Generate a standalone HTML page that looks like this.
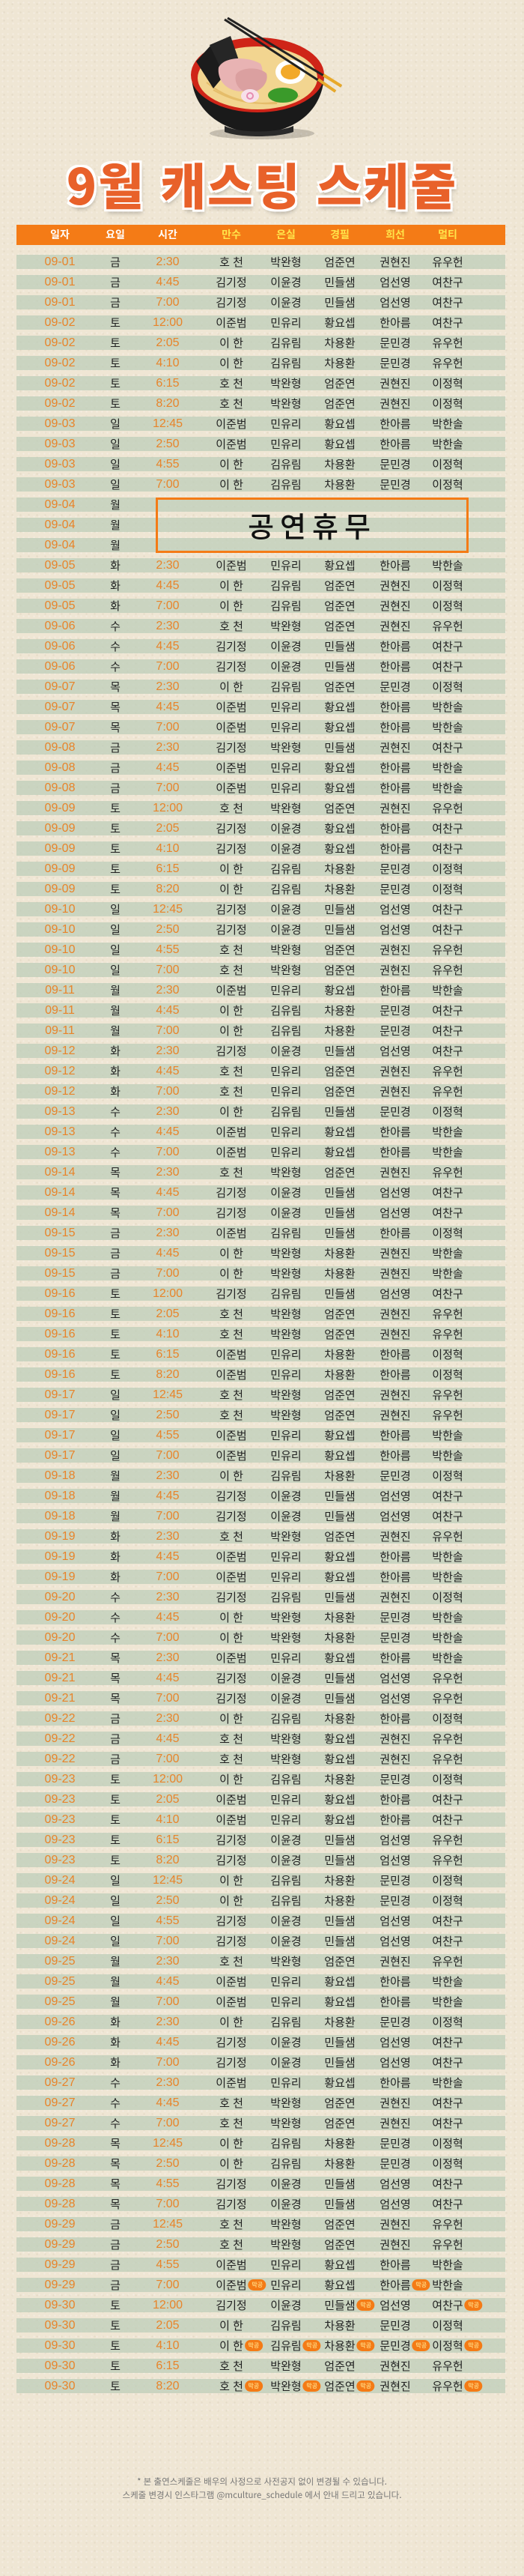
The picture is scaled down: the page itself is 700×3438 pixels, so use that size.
<!DOCTYPE html>
<html lang="ko">
<head>
<meta charset="utf-8">
<style>
html,body{margin:0;padding:0;}
body{width:700px;height:3438px;position:relative;overflow:hidden;
 background:#efe6d4;
 background-image:radial-gradient(rgba(255,255,255,0.25) 1px,transparent 1.5px),radial-gradient(rgba(150,130,100,0.10) 1px,transparent 1.5px);
 background-size:7px 7px,11px 11px;
 font-family:"Liberation Sans","Noto Sans CJK KR",sans-serif;}
#title{position:absolute;left:0;width:700px;top:200px;text-align:center;font-size:66px;line-height:90px;font-weight:900;
 color:#e8612a;letter-spacing:2px;
 font-family:"Noto Sans CJK KR","NanumGothic",sans-serif;
 -webkit-text-stroke:3px #fff;paint-order:stroke fill;
 text-shadow:0 0 0 #fff,3px 3px 0 #fff,-3px -3px 0 #fff,3px -3px 0 #fff,-3px 3px 0 #fff,2px 5px 6px rgba(0,0,0,0.25);}
#header{position:absolute;left:22px;width:653px;top:300px;height:27px;background:#f47b16;}
.h{position:absolute;top:0;height:27px;line-height:27px;transform:translateX(-50%);font-size:14px;font-weight:bold;color:#fff;white-space:nowrap;
 font-family:"Noto Sans CJK KR",sans-serif;}
.h.role{color:#ffe44a;}
.band{position:absolute;left:22px;width:653px;height:19px;background:rgba(190,205,185,0.75);}
.c{position:absolute;height:27px;line-height:19px;transform:translateX(-50%);white-space:nowrap;font-size:15px;color:#222;
 font-family:"Noto Sans CJK KR",sans-serif;}
.c.o{color:#e8842a;font-family:"Liberation Sans Narrow","Liberation Sans",sans-serif;font-size:16px;}
.badge{position:absolute;left:100%;top:2px;margin-left:2px;width:24px;height:15px;border-radius:8px;background:#f47b16;color:#ffd27a;font-size:8px;line-height:15px;text-align:center;font-weight:bold;}
#rest{position:absolute;left:208px;top:664px;width:412px;height:68px;border:3px solid #f47b16;box-sizing:content-box;}
#rest span{position:absolute;left:0;right:0;top:0;bottom:0;text-align:center;line-height:68px;font-size:38px;letter-spacing:8px;color:#111;font-weight:500;
 font-family:"Noto Sans CJK KR",sans-serif;}
#foot{position:absolute;left:0;width:700px;top:3303px;text-align:center;font-size:11.5px;line-height:18px;color:#777;
 font-family:"Noto Sans CJK KR",sans-serif;}
</style>
</head>
<body>
<svg style="position:absolute;left:0;top:0" width="700" height="200" viewBox="0 0 700 200">
 <ellipse cx="350" cy="178" rx="70" ry="8" fill="rgba(0,0,0,0.18)"/>
 <path d="M256 102 C258 150 300 176 345 178 C392 176 430 150 433 102 Z" fill="#1a1a1a"/>
 <path d="M300 168 C320 178 370 178 392 168 L392 176 C370 184 320 184 300 176Z" fill="#2a2a2a"/>
 <ellipse cx="344" cy="100" rx="89" ry="50" fill="#cf2418"/>
 <ellipse cx="344" cy="104" rx="80" ry="42" fill="#f2d590"/>
 <path d="M276 110 C300 130 330 140 370 138 M285 120 C320 140 360 144 400 128" stroke="#e5bd6a" stroke-width="2" fill="none"/>
 <polygon points="262,82 282,60 300,100 285,118" fill="#1c1c1c"/>
 <polygon points="280,60 308,48 325,98 300,102" fill="#262626"/>
 <path d="M292 90 C300 75 330 75 348 85 C356 100 345 120 320 122 C300 120 290 105 292 90Z" fill="#e8b3b3"/>
 <path d="M315 100 C320 90 345 88 356 98 C360 112 345 125 330 124 C318 120 313 110 315 100Z" fill="#dba0a0"/>
 <ellipse cx="388" cy="96" rx="20" ry="16" fill="#fff"/>
 <ellipse cx="388" cy="96" rx="13" ry="10" fill="#f2a92a"/>
 <ellipse cx="334" cy="128" rx="12" ry="9" fill="#f7e0ea"/>
 <circle cx="334" cy="128" r="4" fill="none" stroke="#e68bb0" stroke-width="2"/>
 <ellipse cx="378" cy="127" rx="20" ry="10" fill="#3a9a2a"/>
 <line x1="300" y1="26" x2="448" y2="122" stroke="#222" stroke-width="3"/>
 <line x1="304" y1="24" x2="456" y2="115" stroke="#222" stroke-width="3"/>
 <line x1="425" y1="106" x2="448" y2="122" stroke="#e8a92a" stroke-width="4"/>
 <line x1="432" y1="100" x2="456" y2="115" stroke="#e8a92a" stroke-width="4"/>
</svg>

<div id="title">9월 캐스팅 스케줄</div>

<div id="header">
 <div class="h" style="left:58px">일자</div>
 <div class="h" style="left:132px">요일</div>
 <div class="h" style="left:202px">시간</div>
 <div class="h role" style="left:287px">만수</div>
 <div class="h role" style="left:360px">은실</div>
 <div class="h role" style="left:432px">경필</div>
 <div class="h role" style="left:506px">희선</div>
 <div class="h role" style="left:576px">멀티</div>
</div>

<div id="rows"></div>

<div id="rest"><span>공연휴무</span></div>

<div id="foot">* 본 출연스케줄은 배우의 사정으로 사전공지 없이 변경될 수 있습니다.<br>스케줄 변경시 인스타그램 @mculture_schedule 에서 안내 드리고 있습니다.</div>

<script>
var dates = ["09-01","09-01","09-01","09-02","09-02","09-02","09-02","09-02","09-03","09-03","09-03","09-03","09-04","09-04","09-04",
"09-05","09-05","09-05","09-06","09-06","09-06","09-07","09-07","09-07","09-08","09-08","09-08",
"09-09","09-09","09-09","09-09","09-09","09-10","09-10","09-10","09-10","09-11","09-11","09-11","09-12","09-12","09-12",
"09-13","09-13","09-13","09-14","09-14","09-14","09-15","09-15","09-15","09-16","09-16","09-16","09-16","09-16",
"09-17","09-17","09-17","09-17","09-18","09-18","09-18","09-19","09-19","09-19","09-20","09-20","09-20",
"09-21","09-21","09-21","09-22","09-22","09-22","09-23","09-23","09-23","09-23","09-23","09-24","09-24","09-24","09-24",
"09-25","09-25","09-25","09-26","09-26","09-26","09-27","09-27","09-27","09-28","09-28","09-28","09-28",
"09-29","09-29","09-29","09-29","09-30","09-30","09-30","09-30","09-30"];
var days = ["금","금","금","토","토","토","토","토","일","일","일","일","월","월","월",
"화","화","화","수","수","수","목","목","목","금","금","금",
"토","토","토","토","토","일","일","일","일","월","월","월","화","화","화",
"수","수","수","목","목","목","금","금","금","토","토","토","토","토",
"일","일","일","일","월","월","월","화","화","화","수","수","수",
"목","목","목","금","금","금","토","토","토","토","토","일","일","일","일",
"월","월","월","화","화","화","수","수","수","목","목","목","목",
"금","금","금","금","토","토","토","토","토"];
var times = ["2:30","4:45","7:00","12:00","2:05","4:10","6:15","8:20","12:45","2:50","4:55","7:00","","","",
"2:30","4:45","7:00","2:30","4:45","7:00","2:30","4:45","7:00","2:30","4:45","7:00",
"12:00","2:05","4:10","6:15","8:20","12:45","2:50","4:55","7:00","2:30","4:45","7:00","2:30","4:45","7:00",
"2:30","4:45","7:00","2:30","4:45","7:00","2:30","4:45","7:00","12:00","2:05","4:10","6:15","8:20",
"12:45","2:50","4:55","7:00","2:30","4:45","7:00","2:30","4:45","7:00","2:30","4:45","7:00",
"2:30","4:45","7:00","2:30","4:45","7:00","12:00","2:05","4:10","6:15","8:20","12:45","2:50","4:55","7:00",
"2:30","4:45","7:00","2:30","4:45","7:00","2:30","4:45","7:00","12:45","2:50","4:55","7:00",
"12:45","2:50","4:55","7:00","12:00","2:05","4:10","6:15","8:20"];
var castRows = [
"호 천|박완형|엄준연|권현진|유우헌","김기정|이윤경|민들샘|엄선영|여찬구","김기정|이윤경|민들샘|엄선영|여찬구",
"이준범|민유리|황요셉|한아름|여찬구","이 한|김유림|차용환|문민경|유우헌","이 한|김유림|차용환|문민경|유우헌","호 천|박완형|엄준연|권현진|이정혁","호 천|박완형|엄준연|권현진|이정혁",
"이준범|민유리|황요셉|한아름|박한솔","이준범|민유리|황요셉|한아름|박한솔","이 한|김유림|차용환|문민경|이정혁","이 한|김유림|차용환|문민경|이정혁",
"","","",
"이준범|민유리|황요셉|한아름|박한솔","이 한|김유림|엄준연|권현진|이정혁","이 한|김유림|엄준연|권현진|이정혁",
"호 천|박완형|엄준연|권현진|유우헌","김기정|이윤경|민들샘|한아름|여찬구","김기정|이윤경|민들샘|한아름|여찬구",
"이 한|김유림|엄준연|문민경|이정혁","이준범|민유리|황요셉|한아름|박한솔","이준범|민유리|황요셉|한아름|박한솔",
"김기정|박완형|민들샘|권현진|여찬구","이준범|민유리|황요셉|한아름|박한솔","이준범|민유리|황요셉|한아름|박한솔",
"호 천|박완형|엄준연|권현진|유우헌","김기정|이윤경|황요셉|한아름|여찬구","김기정|이윤경|황요셉|한아름|여찬구","이 한|김유림|차용환|문민경|이정혁","이 한|김유림|차용환|문민경|이정혁",
"김기정|이윤경|민들샘|엄선영|여찬구","김기정|이윤경|민들샘|엄선영|여찬구","호 천|박완형|엄준연|권현진|유우헌","호 천|박완형|엄준연|권현진|유우헌",
"이준범|민유리|황요셉|한아름|박한솔","이 한|김유림|차용환|문민경|여찬구","이 한|김유림|차용환|문민경|여찬구",
"김기정|이윤경|민들샘|엄선영|여찬구","호 천|민유리|엄준연|권현진|유우헌","호 천|민유리|엄준연|권현진|유우헌",
"이 한|김유림|민들샘|문민경|이정혁","이준범|민유리|황요셉|한아름|박한솔","이준범|민유리|황요셉|한아름|박한솔",
"호 천|박완형|엄준연|권현진|유우헌","김기정|이윤경|민들샘|엄선영|여찬구","김기정|이윤경|민들샘|엄선영|여찬구",
"이준범|김유림|민들샘|한아름|이정혁","이 한|박완형|차용환|권현진|박한솔","이 한|박완형|차용환|권현진|박한솔",
"김기정|김유림|민들샘|엄선영|여찬구","호 천|박완형|엄준연|권현진|유우헌","호 천|박완형|엄준연|권현진|유우헌","이준범|민유리|차용환|한아름|이정혁","이준범|민유리|차용환|한아름|이정혁",
"호 천|박완형|엄준연|권현진|유우헌","호 천|박완형|엄준연|권현진|유우헌","이준범|민유리|황요셉|한아름|박한솔","이준범|민유리|황요셉|한아름|박한솔",
"이 한|김유림|차용환|문민경|이정혁","김기정|이윤경|민들샘|엄선영|여찬구","김기정|이윤경|민들샘|엄선영|여찬구",
"호 천|박완형|엄준연|권현진|유우헌","이준범|민유리|황요셉|한아름|박한솔","이준범|민유리|황요셉|한아름|박한솔",
"김기정|김유림|민들샘|권현진|이정혁","이 한|박완형|차용환|문민경|박한솔","이 한|박완형|차용환|문민경|박한솔",
"이준범|민유리|황요셉|한아름|박한솔","김기정|이윤경|민들샘|엄선영|유우헌","김기정|이윤경|민들샘|엄선영|유우헌",
"이 한|김유림|차용환|한아름|이정혁","호 천|박완형|황요셉|권현진|유우헌","호 천|박완형|황요셉|권현진|유우헌",
"이 한|김유림|차용환|문민경|이정혁","이준범|민유리|황요셉|한아름|여찬구","이준범|민유리|황요셉|한아름|여찬구","김기정|이윤경|민들샘|엄선영|유우헌","김기정|이윤경|민들샘|엄선영|유우헌",
"이 한|김유림|차용환|문민경|이정혁","이 한|김유림|차용환|문민경|이정혁","김기정|이윤경|민들샘|엄선영|여찬구","김기정|이윤경|민들샘|엄선영|여찬구",
"호 천|박완형|엄준연|권현진|유우헌","이준범|민유리|황요셉|한아름|박한솔","이준범|민유리|황요셉|한아름|박한솔",
"이 한|김유림|차용환|문민경|이정혁","김기정|이윤경|민들샘|엄선영|여찬구","김기정|이윤경|민들샘|엄선영|여찬구",
"이준범|민유리|황요셉|한아름|박한솔","호 천|박완형|엄준연|권현진|여찬구","호 천|박완형|엄준연|권현진|여찬구",
"이 한|김유림|차용환|문민경|이정혁","이 한|김유림|차용환|문민경|이정혁","김기정|이윤경|민들샘|엄선영|여찬구","김기정|이윤경|민들샘|엄선영|여찬구",
"호 천|박완형|엄준연|권현진|유우헌","호 천|박완형|엄준연|권현진|유우헌","이준범|민유리|황요셉|한아름|박한솔","이준범*|민유리|황요셉|한아름*|박한솔",
"김기정|이윤경|민들샘*|엄선영|여찬구*","이 한|김유림|차용환|문민경|이정혁","이 한*|김유림*|차용환*|문민경*|이정혁*","호 천|박완형|엄준연|권현진|유우헌","호 천*|박완형*|엄준연*|권현진|유우헌*"];
var roleNames = ["mansu","eunsil","gyeongpil","heeseon","multi"];

var container = document.getElementById('rows');
var colX = [80,154,224,309,382,454,528,598];
function rowY(i){ return 340 + 27*i; }
for (var i = 0; i < dates.length; i++) {
  var y = rowY(i);
  var band = document.createElement('div');
  band.className = 'band';
  band.style.top = y + 'px';
  
  
  container.appendChild(band);

  var d = document.createElement('div');
  d.className = 'c o';
  d.style.left = colX[0] + 'px'; d.style.top = y + 'px';
  d.textContent = dates[i];
  
  
  container.appendChild(d);

  var w = document.createElement('div');
  w.className = 'c';
  w.style.left = colX[1] + 'px'; w.style.top = y + 'px';
  w.textContent = days[i];
  
  
  container.appendChild(w);

  if (times[i]) {
    var t = document.createElement('div');
    t.className = 'c o';
    t.style.left = colX[2] + 'px'; t.style.top = y + 'px';
    t.textContent = times[i];
    
    
    container.appendChild(t);
  }
  if (castRows[i]) {
    var names = castRows[i].split('|');
    for (var k = 0; k < names.length; k++) {
      var nm = names[k];
      var last = nm.indexOf('*') >= 0;
      nm = nm.replace('*','');
      var c = document.createElement('div');
      c.className = 'c';
      c.style.left = colX[3+k] + 'px'; c.style.top = y + 'px';
      c.textContent = nm;
      
      
      if (last) {
        var b = document.createElement('span');
        b.className = 'badge';
        b.textContent = '막공';
        
        
        c.appendChild(b);
      }
      container.appendChild(c);
    }
  }
}
</script>
</body>
</html>
